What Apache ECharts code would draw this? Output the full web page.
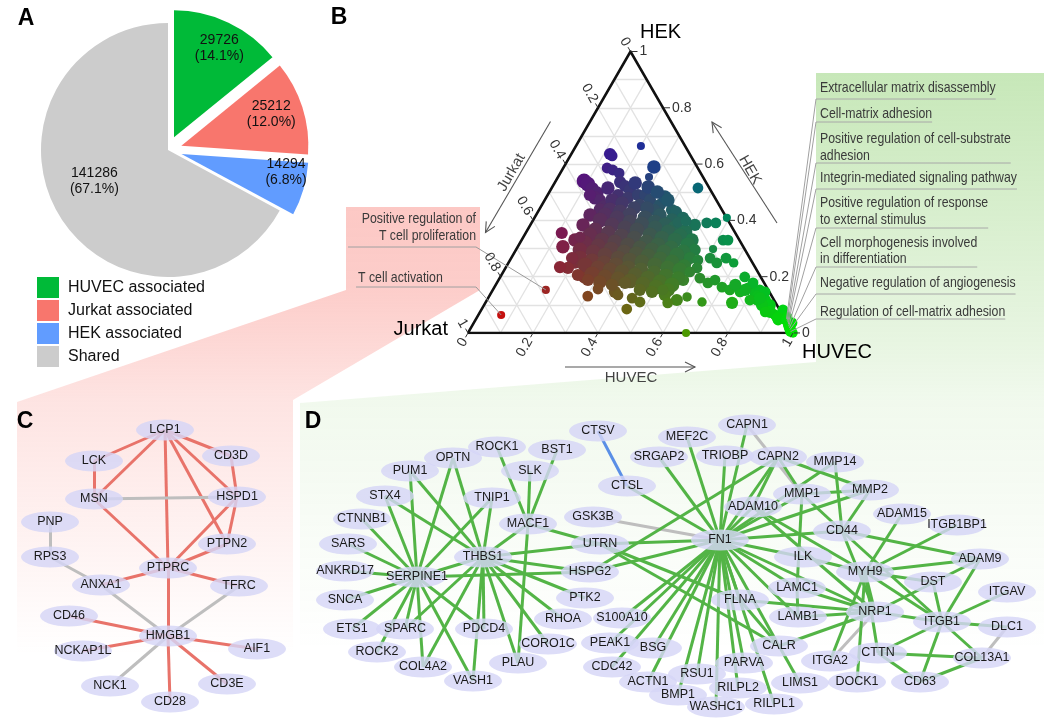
<!DOCTYPE html>
<html><head><meta charset="utf-8">
<script src="https://cdn.jsdelivr.net/npm/echarts@6/dist/echarts.min.js"></script>
<style>html,body{margin:0;padding:0;background:#fff}#c{width:1050px;height:724px}</style>
</head><body><div id="c"></div>
<script>
// ================= DATA =================
const pieCategories = ['HUVEC associated', 'Jurkat associated', 'HEK associated', 'Shared'];
const pieValues = [29726, 25212, 14294, 141286];
const pieColors = ['#00BA38', '#F8766D', '#619CFF', '#CCCCCC'];

const ternaryTicks = [0, 0.2, 0.4, 0.6, 0.8, 1];
const ternaryGridSteps = [0.1, 0.2, 0.3, 0.4, 0.5, 0.6, 0.7, 0.8, 0.9];
const ternaryAxisNames = ['Jurkat', 'HUVEC', 'HEK'];
// [HUVEC fraction, HEK fraction, dot size]; Jurkat = 1 - HUVEC - HEK
const ternaryPoints = [
[0.20,0.664,6],[0.277,0.590,10],[0.280,0.554,6],[0.119,0.636,9],[0.129,0.629,8],
[0.135,0.586,8],[0.156,0.579,8],[0.181,0.568,8],[0.45,0.515,8],
[0.087,0.540,11],[0.104,0.529,11],[0.126,0.512,10],[0.148,0.497,10],[0.151,0.480,10],[0.170,0.472,9],[0.192,0.451,9],[0.130,0.490,9],
[0.200,0.536,9],[0.222,0.522,9],[0.244,0.508,9],[0.217,0.490,9],[0.252,0.480,9],[0.278,0.490,9],[0.300,0.490,9],[0.324,0.472,9],[0.363,0.455,9],[0.364,0.483,10],[0.409,0.437,9],[0.425,0.430,9],[0.356,0.437,9],[0.301,0.455,9],
[0.248,0.533,10],[0.295,0.519,10],[0.332,0.501,10],[0.379,0.472,10],[0.207,0.472,10],[0.188,0.437,10],[0.166,0.419,10],[0.162,0.384,10],[0.164,0.330,10],[0.203,0.252,10],[0.260,0.199,10],[0.379,0.146,9],[0.542,0.252,10],[0.568,0.188,9],[0.518,0.330,10],[0.506,0.384,9],
[0.173,0.515,10],[0.243,0.462,10],[0.289,0.444,10],[0.329,0.444,10],[0.381,0.419,10],[0.427,0.401,10],[0.457,0.409,9],
[0.218,0.437,11],[0.253,0.430,11],[0.288,0.419,11],[0.340,0.409,11],[0.378,0.394,11],[0.414,0.384,11],[0.450,0.373,11],[0.488,0.359,11],
[0.212,0.419,11],[0.254,0.409,11],[0.301,0.394,11],[0.341,0.387,11],[0.389,0.373,11],[0.436,0.359,11],[0.480,0.345,11],[0.524,0.330,10],
[0.206,0.401,11],[0.251,0.384,11],[0.296,0.373,11],[0.337,0.366,11],[0.386,0.348,11],[0.428,0.337,11],[0.472,0.330,11],[0.520,0.313,11],[0.550,0.295,9],
[0.208,0.366,11],[0.254,0.355,11],[0.299,0.345,11],[0.343,0.337,11],[0.387,0.323,11],[0.428,0.313,11],[0.474,0.302,11],[0.518,0.288,11],
[0.201,0.348,11],[0.247,0.330,11],[0.290,0.323,11],[0.335,0.313,11],[0.378,0.302,11],[0.418,0.295,11],[0.459,0.288,11],[0.504,0.277,11],[0.550,0.266,9],
[0.200,0.320,11],[0.246,0.309,11],[0.291,0.298,11],[0.336,0.288,11],[0.377,0.281,11],[0.417,0.274,11],[0.460,0.263,11],[0.502,0.252,11],[0.546,0.238,10],
[0.197,0.295,11],[0.241,0.288,11],[0.283,0.277,11],[0.329,0.266,11],[0.368,0.259,11],[0.409,0.252,11],[0.454,0.242,11],[0.499,0.231,11],[0.540,0.224,11],
[0.212,0.266,11],[0.254,0.256,11],[0.294,0.249,11],[0.334,0.242,11],[0.377,0.231,11],[0.420,0.224,11],[0.466,0.213,11],[0.508,0.202,11],[0.549,0.195,10],
[0.239,0.242,11],[0.284,0.231,11],[0.325,0.224,11],[0.365,0.217,11],[0.411,0.206,11],[0.456,0.195,11],[0.500,0.181,11],[0.542,0.171,11],
[0.277,0.210,11],[0.322,0.199,11],[0.366,0.192,11],[0.406,0.185,11],[0.451,0.174,11],[0.497,0.163,11],[0.539,0.153,10],
[0.315,0.181,10],[0.357,0.171,9],[0.394,0.178,9],[0.452,0.153,9],[0.493,0.146,9],[0.538,0.135,9],[0.584,0.117,9],
[0.111,0.355,9],[0.139,0.306,10],[0.174,0.341,8],[0.187,0.266,9],[0.192,0.231,9],[0.235,0.206,9],[0.166,0.234,9],[0.275,0.188,9],[0.322,0.156,8],[0.303,0.131,8],
[0.446,0.085,8],[0.394,0.135,8],[0.443,0.124,8],[0.474,0.110,8],
[0.449,0.394,8],[0.472,0.398,8],[0.539,0.391,8],[0.567,0.391,8],[0.592,0.409,6],[0.620,0.330,8],[0.635,0.330,8],[0.605,0.298,6],[0.578,0.259,8],[0.589,0.231,8],[0.612,0.266,8],[0.641,0.249,8],[0.661,0.266,8],[0.693,0.249,7],[0.752,0.199,8],
[0.574,0.217,8],[0.616,0.195,8],[0.649,0.178,8],[0.666,0.188,8],[0.700,0.163,8],[0.729,0.153,8],[0.764,0.146,8],[0.782,0.160,8],[0.812,0.142,8],[0.821,0.153,8],[0.788,0.178,8],[0.855,0.117,9],[0.879,0.099,9],[0.855,0.099,9],[0.830,0.117,8],[0.913,0.064,8],[0.928,0.082,8],[0.953,0.057,8],[0.979,0.036,8],[0.759,0.107,9],[0.665,0.110,7],[0.610,0.128,7],[0.523,0.153,8],[0.561,0.107,8],[0.671,0.0,6],
[0.826,0.131,9],[0.841,0.146,8],[0.809,0.117,8],[0.931,0.046,8],
[0.892,0.075,9],[0.927,0.053,9],[0.877,0.075,8],[0.836,0.124,9],[0.776,0.153,9],[0.737,0.171,9],
[0.978,0.025,7],[0.99,0.011,7],[0.952,0.046,7],[0.974,0.028,7],[1.0,0.0,7]
];
const jurkatTerms = [['Positive regulation of', 'T cell proliferation'], ['T cell activation']];
const jurkatTermPoints = [[0.163, 0.153, 6], [0.070, 0.064, 6]];
const huvecTerms = [
  ['Extracellular matrix disassembly'],
  ['Cell-matrix adhesion'],
  ['Positive regulation of cell-substrate', 'adhesion'],
  ['Integrin-mediated signaling pathway'],
  ['Positive regulation of response', 'to external stimulus'],
  ['Cell morphogenesis involved', 'in differentiation'],
  ['Negative regulation of angiogenesis'],
  ['Regulation of cell-matrix adhesion']
];
const huvecTermPoints = [[0.955,0.050,8],[0.960,0.044,8],[0.965,0.038,8],[0.970,0.031,8],[0.975,0.024,8],[0.980,0.018,8],[0.985,0.012,8],[0.990,0.005,8]];

// Network C (Jurkat) — node layout in figure pixels
const nodesC = ['LCP1','LCK','CD3D','MSN','HSPD1','PNP','RPS3','PTPN2','PTPRC','ANXA1','TFRC','CD46','HMGB1','AIF1','NCKAP1L','NCK1','CD3E','CD28'];
const layoutC = [[165,430],[94,461],[231,456],[94,499],[237,497],[50,522],[50,557],[227,544],[168,568],[101,585],[239,586],[69,616],[168,636],[257,649],[83,651],[110,686],[227,684],[170,702]];
const edgesC = [
['LCP1','LCK','red'],['LCP1','MSN','red'],['LCP1','CD3D','red'],['LCP1','HSPD1','red'],['LCP1','PTPN2','red'],['LCP1','PTPRC','red'],
['LCK','MSN','red'],['CD3D','HSPD1','red'],['HSPD1','PTPN2','red'],['HSPD1','PTPRC','red'],['MSN','HSPD1','gray'],['MSN','PTPRC','red'],
['PNP','RPS3','gray'],['RPS3','ANXA1','gray'],['PTPN2','PTPRC','red'],['PTPRC','ANXA1','red'],['PTPRC','TFRC','red'],['PTPRC','HMGB1','red'],
['ANXA1','HMGB1','gray'],['TFRC','HMGB1','gray'],['CD46','HMGB1','red'],['HMGB1','AIF1','red'],['HMGB1','NCKAP1L','red'],['HMGB1','NCK1','gray'],
['HMGB1','CD3E','red'],['HMGB1','CD28','red']
];

// Network D (HUVEC)
const nodesD = ['CTSV','ROCK1','BST1','OPTN','PUM1','SLK','STX4','TNIP1','CTNNB1','MACF1','SARS','THBS1','ANKRD17','SERPINE1','SNCA','ETS1','SPARC','ROCK2','COL4A2','VASH1','PDCD4','PLAU','CORO1C','RHOA','PTK2','HSPG2','UTRN','GSK3B','CTSL','SRGAP2','MEF2C','S100A10','PEAK1','CDC42','BSG','ACTN1','BMP1','RSU1','WASHC1','RILPL2','RILPL1','PARVA','CALR','LIMS1','FLNA','FN1','TRIOBP','CAPN1','CAPN2','ADAM10','MMP14','MMP1','MMP2','CD44','ADAM15','ITGB1BP1','ILK','ADAM9','MYH9','DST','LAMC1','ITGAV','NRP1','LAMB1','ITGB1','DLC1','ITGA2','CTTN','COL13A1','DOCK1','CD63'];
const layoutD = [[598,431],[497,447],[557,450],[453,458],[410,471],[530,471],[385,496],[492,498],[362,519],[528,524],[348,544],[483,557],[345,571],[417,577],[345,600],[352,629],[405,629],[377,652],[423,667],[473,681],[484,629],[518,663],[548,644],[563,619],[585,598],[590,572],[600,544],[593,517],[627,486],[659,457],[687,437],[622,618],[610,643],[612,667],[653,648],[648,682],[678,695],[697,674],[716,707],[738,688],[774,704],[744,663],[779,646],[800,683],[740,600],[720,540],[725,456],[747,425],[778,457],[753,507],[835,462],[802,494],[870,490],[842,531],[902,514],[957,525],[803,557],[980,559],[865,572],[933,582],[797,588],[1007,592],[875,612],[798,617],[942,622],[1007,627],[830,661],[878,653],[982,658],[857,682],[920,682]];
const edgesD = [
['CTSV','CTSL','blue'],['GSK3B','FN1','gray'],['CAPN1','MMP1','gray'],['ITGA2','NRP1','gray'],['DLC1','COL13A1','gray'],
['SERPINE1','PUM1'],['SERPINE1','OPTN'],['SERPINE1','STX4'],['SERPINE1','CTNNB1'],['SERPINE1','SARS'],['SERPINE1','ANKRD17'],['SERPINE1','SNCA'],['SERPINE1','ETS1'],['SERPINE1','ROCK2'],['SERPINE1','SPARC'],['SERPINE1','COL4A2'],['SERPINE1','VASH1'],['SERPINE1','PDCD4'],['SERPINE1','TNIP1'],['SERPINE1','THBS1'],['SERPINE1','HSPG2'],
['THBS1','PUM1'],['THBS1','OPTN'],['THBS1','STX4'],['THBS1','TNIP1'],['THBS1','MACF1'],['THBS1','UTRN'],['THBS1','HSPG2'],['THBS1','PTK2'],['THBS1','RHOA'],['THBS1','CORO1C'],['THBS1','PLAU'],['THBS1','PDCD4'],['THBS1','VASH1'],['THBS1','COL4A2'],['THBS1','SPARC'],
['MACF1','ROCK1'],['MACF1','SLK'],['MACF1','BST1'],['MACF1','UTRN'],['MACF1','PLAU'],
['FN1','CTSL'],['FN1','SRGAP2'],['FN1','MEF2C'],['FN1','TRIOBP'],['FN1','CAPN1'],['FN1','CAPN2'],['FN1','ADAM10'],['FN1','MMP1'],['FN1','MMP14'],['FN1','MMP2'],['FN1','CD44'],['FN1','ILK'],['FN1','LAMC1'],['FN1','NRP1'],['FN1','LAMB1'],['FN1','FLNA'],['FN1','CALR'],['FN1','PARVA'],['FN1','RILPL1'],['FN1','RILPL2'],['FN1','WASHC1'],['FN1','RSU1'],['FN1','BMP1'],['FN1','ACTN1'],['FN1','BSG'],['FN1','CDC42'],['FN1','PEAK1'],['FN1','S100A10'],['FN1','HSPG2'],['FN1','UTRN'],
['CAPN2','HSPG2'],['CAPN2','ADAM10'],['CAPN2','MMP1'],['CAPN2','MMP2'],['UTRN','CALR'],['UTRN','FLNA'],
['MMP14','CD44'],['MMP1','MMP2'],['MMP1','CD44'],['MMP1','LAMC1'],['MMP2','CD44'],
['ADAM10','MYH9'],['ADAM10','NRP1'],['CD44','ADAM9'],['CD44','ITGB1'],['CD44','NRP1'],
['MYH9','ILK'],['MYH9','ADAM15'],['MYH9','ITGB1BP1'],['MYH9','ADAM9'],['MYH9','DST'],['MYH9','NRP1'],['MYH9','ITGB1'],['MYH9','CTTN'],['MYH9','ITGA2'],['MYH9','DOCK1'],
['ADAM9','ITGB1'],['ADAM9','NRP1'],['DST','ITGB1'],
['NRP1','LAMC1'],['NRP1','LAMB1'],['NRP1','FLNA'],['NRP1','CALR'],['NRP1','ITGB1'],
['ITGB1','ITGAV'],['ITGB1','DLC1'],['ITGB1','COL13A1'],['ITGB1','CD63'],['ITGB1','CTTN'],
['CTTN','COL13A1'],['CTTN','CD63'],['CD63','COL13A1'],['LAMC1','LAMB1'],['CALR','LIMS1'],['FLNA','CALR']
];

// ================= STYLE / BUILD =================
const FONT = '"Liberation Sans", Arial, Helvetica, sans-serif';
const edgeColors = { red: '#E8736A', gray: '#BEBEBE', green: '#53B446', blue: '#5A8FE6' };
const H = Math.sqrt(3) / 2;
const tern = (u, h) => [u + h / 2, h * H];
const chart = echarts.init(document.getElementById('c'), null, { renderer: 'canvas', width: 1050, height: 724 });

const total = pieValues.reduce((a, b) => a + b, 0);
const pieData = pieCategories.map((n, i) => ({ name: n, value: pieValues[i], selected: i < 3, itemStyle: { color: pieColors[i] } }));
const pieLabelData = pieCategories.map((n, i) => ({ name: n, value: pieValues[i], selected: i < 3, itemStyle: { color: 'rgba(0,0,0,0)' } }));
const pieLabelShift = [[3, 0], [-4, -2], [10, -9], [11, -19]];

const gridLines = [];
ternaryGridSteps.forEach(t => {
  gridLines.push({ coords: [tern(0, t), tern(1 - t, t)] });
  gridLines.push({ coords: [tern(t, 0), tern(t, 1 - t)] });
  gridLines.push({ coords: [tern(1 - t, 0), tern(0, 1 - t)] });
});
const border = [{ coords: [tern(0, 0), tern(1, 0), tern(0, 1), tern(0, 0)] }];

const allPts = ternaryPoints.concat(jurkatTermPoints, huvecTermPoints);
const K = 228;
const scatterData = allPts.map(p => {
  const u = p[0], h = p[1], j = Math.max(0, 1 - u - h);
  return { value: tern(u, h), symbolSize: p[2] * 1.35,
    itemStyle: { opacity: 1, color: `rgb(${Math.round(j * K)},${Math.round(u * K)},${Math.round(h * K)})` } };
});

function graphSeries(nodes, layout, edges, defType) {
  return {
    type: 'graph', coordinateSystem: 'cartesian2d', xAxisIndex: 1, yAxisIndex: 1,
    silent: true, animation: false, z: 5,
    symbol: 'circle', symbolSize: [58, 21],
    itemStyle: { color: 'rgba(214,214,247,0.82)' },
    label: { show: true, position: 'inside', fontSize: 12.5, color: '#1a1a1a', fontFamily: FONT },
    lineStyle: { width: 3, opacity: 1, curveness: 0 },
    emphasis: { disabled: true },
    data: nodes.map((n, i) => ({ name: n, value: layout[i] })),
    links: edges.map(e => ({ source: e[0], target: e[1], lineStyle: { color: edgeColors[e[2] || defType] } }))
  };
}

// step 1: coordinate systems only
chart.setOption({
  animation: false,
  grid: [
    { left: 468, top: 51.5, width: 325, height: 325 * H, outerBoundsMode: 'none' },
    { left: 0, top: 0, width: 1050, height: 724, outerBoundsMode: 'none' }
  ],
  xAxis: [
    { gridIndex: 0, type: 'value', min: 0, max: 1, show: false },
    { gridIndex: 1, type: 'value', min: 0, max: 1050, show: false }
  ],
  yAxis: [
    { gridIndex: 0, type: 'value', min: 0, max: H, show: false },
    { gridIndex: 1, type: 'value', min: 0, max: 724, inverse: true, show: false }
  ]
});

// ================= DECORATION (graphic) =================
const mctx = document.createElement('canvas').getContext('2d');
const tw = (t, f) => { mctx.font = f; return mctx.measureText(t).width; };
const narrowOK = Math.abs(tw('Integrin-mediated signaling', '15px "Liberation Sans Narrow", monospace') - tw('Integrin-mediated signaling', '15px monospace')) > 1;
const AFONT = narrowOK ? '15px "Liberation Sans Narrow"' : '15px "Liberation Sans"';
const ASC = narrowOK ? 1 : 0.82;
const px = (u, h) => chart.convertToPixel({ gridIndex: 0 }, tern(u, h));
const G = [];
const txt = (text, x, y, o = {}) => G.push({ type: 'text', x, y, rotation: o.rot || 0, scaleX: o.sx || 1, z: 100,
  style: { text, x: 0, y: 0, font: o.font || ('14px ' + FONT), fill: o.fill || '#333', align: o.align || 'center', verticalAlign: o.va || 'middle' } });
const ln = (x1, y1, x2, y2, stroke, w, z) => G.push({ type: 'line', z: z || 90, shape: { x1, y1, x2, y2 }, style: { stroke, lineWidth: w } });
const arrow = (x1, y1, x2, y2) => {
  ln(x1, y1, x2, y2, '#555', 1.1);
  const L = Math.hypot(x2 - x1, y2 - y1), dx = (x2 - x1) / L, dy = (y2 - y1) / L;
  G.push({ type: 'polyline', z: 90, shape: { points: [[x2 - 10 * dx - 5 * dy, y2 - 10 * dy + 5 * dx], [x2, y2], [x2 - 10 * dx + 5 * dy, y2 - 10 * dy - 5 * dx]] }, style: { stroke: '#555', lineWidth: 1.1, fill: null } });
};

// background fans
G.push({ type: 'polygon', z: 0, silent: true,
  shape: { points: [[346, 207], [480, 207], [480, 290], [293, 400], [293, 655], [17, 655], [17, 402], [346, 290]] },
  style: { fill: new echarts.graphic.LinearGradient(0, 0, 0, 1, [
    { offset: 0, color: 'rgba(248,118,109,0.40)' }, { offset: 0.19, color: 'rgba(248,118,109,0.36)' },
    { offset: 0.43, color: 'rgba(248,118,109,0.20)' }, { offset: 1, color: 'rgba(248,118,109,0)' }]) } });
G.push({ type: 'polygon', z: 0, silent: true,
  shape: { points: [[816, 73], [1044, 73], [1044, 650], [300, 650], [300, 403], [816, 362]] },
  style: { fill: new echarts.graphic.LinearGradient(0, 0, 0, 1, [
    { offset: 0, color: 'rgba(100,190,60,0.36)' }, { offset: 0.47, color: 'rgba(100,190,60,0.15)' },
    { offset: 0.57, color: 'rgba(100,190,60,0.09)' }, { offset: 1, color: 'rgba(100,190,60,0)' }]) } });

// panel letters
[['A', 26, 19], ['B', 339, 18], ['C', 25, 422], ['D', 313, 422]].forEach(l =>
  txt(l[0], l[1], l[2], { font: 'bold 23px ' + FONT, fill: '#000' }));

// ternary axes: ticks and labels
const J = px(0, 0), U = px(1, 0), A = px(0, 1);
ternaryTicks.forEach(v => {
  const lab = String(v);
  const p = px(v, 0), d = [-0.5, H];
  ln(p[0], p[1], p[0] + d[0] * 5, p[1] + d[1] * 5, '#333', 1);
  txt(lab, p[0] + d[0] * 7, p[1] + d[1] * 7, { rot: Math.PI / 3, align: 'right' });
  const q = px(0, 1 - v), e = [-0.5, -H];
  ln(q[0], q[1], q[0] + e[0] * 5, q[1] + e[1] * 5, '#333', 1);
  txt(lab, q[0] + e[0] * 7, q[1] + e[1] * 7, { rot: -Math.PI / 3, align: 'right' });
  const r = px(1 - v, v);
  ln(r[0] + 1, r[1], r[0] + 7, r[1], '#333', 1);
  txt(lab, r[0] + 9, r[1], { align: 'left' });
});
txt(ternaryAxisNames[2], A[0] + 30, A[1] - 19, { font: '20px ' + FONT, fill: '#000' });
txt(ternaryAxisNames[0], J[0] - 20, J[1] - 3, { font: '20px ' + FONT, fill: '#000', align: 'right' });
txt(ternaryAxisNames[1], U[0] + 9, U[1] + 20, { font: '20px ' + FONT, fill: '#000', align: 'left' });
arrow(A[0] - 80, A[1] + 70, A[0] - 145, A[1] + 181);
txt(ternaryAxisNames[0], A[0] - 119, A[1] + 121, { rot: Math.PI / 3, font: '15px ' + FONT, fill: '#444' });
arrow(U[0] - 16, U[1] - 110, U[0] - 81, U[1] - 211);
txt(ternaryAxisNames[2], U[0] - 43, U[1] - 163, { rot: -Math.PI / 3, font: '15px ' + FONT, fill: '#444' });
arrow(J[0] + 97, J[1] + 34, J[0] + 227, J[1] + 34);
txt(ternaryAxisNames[1], J[0] + 163, J[1] + 45, { font: '15px ' + FONT, fill: '#444' });

// Jurkat-side annotations
const jl = [{ right: 476, ys: [219, 236], ul: 247, left: 348 }, { right: 476, ys: [278], ul: 287, left: 356 }];
jurkatTerms.forEach((lines, i) => {
  const c = jl[i];
  lines.forEach((t, k) => {
    if (i === 0) txt(t, c.right, c.ys[k], { font: AFONT, fill: '#3a3a3a', align: 'right', sx: ASC });
    else txt(t, 358, c.ys[k], { font: AFONT, fill: '#3a3a3a', align: 'left', sx: ASC });
  });
  ln(c.left, c.ul, c.right, c.ul, '#a0a0a0', 1);
  const tp = px(jurkatTermPoints[i][0], jurkatTermPoints[i][1]);
  ln(c.right, c.ul, tp[0], tp[1], '#9a9a9a', 1);
});

// HUVEC-side annotations
const hl = [[88], [114], [139, 156], [178], [203, 220], [243, 259], [283], [312]];
const hul = [99, 122, 163, 189, 228, 267, 294, 319];
huvecTerms.forEach((lines, i) => {
  let wmax = 0;
  lines.forEach((t, k) => {
    txt(t, 820, hl[i][k], { font: AFONT, fill: '#3a3a3a', align: 'left', sx: ASC });
    wmax = Math.max(wmax, tw(t, AFONT) * ASC);
  });
  ln(816, hul[i], Math.min(1045, 820 + wmax), hul[i], '#a8a8a8', 1);
  const tp = px(huvecTermPoints[i][0], huvecTermPoints[i][1]);
  ln(816, hul[i], tp[0], tp[1], '#a0a0a0', 1);
});

// step 2: series + decoration in one pass
chart.setOption({
  legend: {
    data: pieCategories, orient: 'vertical', left: 37, top: 277, padding: 0,
    itemWidth: 22, itemHeight: 21, itemGap: 2, icon: 'rect', selectedMode: false,
    textStyle: { fontSize: 16, color: '#111', fontFamily: FONT, padding: [0, 0, 0, 4] }
  },
  graphic: G,
  series: [
    { type: 'pie', center: [168, 150], radius: [0, 127], startAngle: 90, clockwise: true,
      selectedMode: 'multiple', selectedOffset: 14, silent: true, z: 3,
      label: { show: false }, labelLine: { show: false }, emphasis: { disabled: true },
      itemStyle: { borderWidth: 0 }, data: pieData },
    { type: 'pie', center: [168, 150], radius: [64, 127], startAngle: 90, clockwise: true,
      selectedMode: 'multiple', selectedOffset: 14, silent: true, z: 4,
      itemStyle: { borderWidth: 0 }, emphasis: { disabled: true }, labelLine: { show: false },
      label: { show: true, position: 'inside', fontSize: 14, lineHeight: 16, color: '#111', fontFamily: FONT,
        formatter: p => p.value + '\n(' + (p.value / total * 100).toFixed(1) + '%)' },
      labelLayout: p => ({ dx: pieLabelShift[p.dataIndex][0], dy: pieLabelShift[p.dataIndex][1] }),
      data: pieLabelData },
    { type: 'lines', coordinateSystem: 'cartesian2d', xAxisIndex: 0, yAxisIndex: 0, silent: true, z: 1,
      lineStyle: { color: '#e2e2e2', width: 1.3, opacity: 1, curveness: 0 }, data: gridLines },
    { type: 'lines', coordinateSystem: 'cartesian2d', xAxisIndex: 0, yAxisIndex: 0, polyline: true, silent: true, z: 2,
      lineStyle: { color: '#111', width: 2.6, opacity: 1, curveness: 0 }, data: border },
    { type: 'scatter', xAxisIndex: 0, yAxisIndex: 0, clip: false, silent: true, z: 3, data: scatterData },
    graphSeries(nodesC, layoutC, edgesC, 'red'),
    graphSeries(nodesD, layoutD, edgesD, 'green')
  ]
});
</script></body></html>
